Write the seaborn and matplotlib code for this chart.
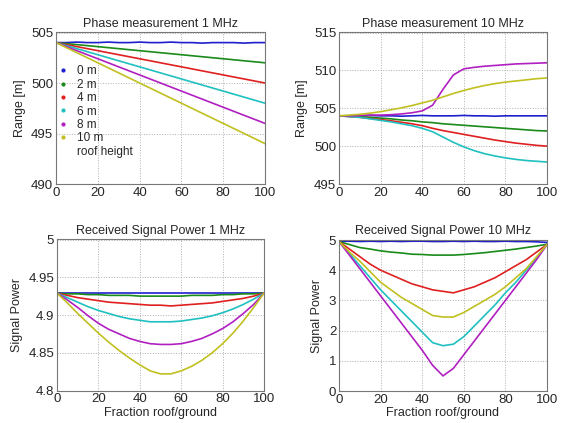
import matplotlib
matplotlib.use("Agg")
import matplotlib.pyplot as plt
from matplotlib.lines import Line2D
import seaborn as sns
import numpy as np
import pandas as pd

# fraction roof/ground (%), read every 5 units
fraction = list(range(0, 101, 5))
heights = ["0 m", "2 m", "4 m", "6 m", "8 m", "10 m"]
colors = ["#1f1fd0", "#1a8a1a", "#e02020", "#20c0c0", "#b020c0", "#c0c020"]

# Phase measurement 1 MHz (range in m)
phase_1mhz_0 = [504.0, 504.0, 504.05, 504.0, 504.0, 504.05, 504.0, 504.0, 504.05, 504.0, 504.0,
                504.05, 504.0, 504.0, 503.95, 504.0, 504.0, 504.0, 503.95, 504.0, 504.0]
phase_1mhz_2 = [504.0, 503.9, 503.8, 503.7, 503.6, 503.5, 503.4, 503.3, 503.2, 503.1, 503.0,
                502.9, 502.8, 502.7, 502.6, 502.5, 502.4, 502.3, 502.2, 502.1, 502.0]
phase_1mhz_4 = [504.0, 503.8, 503.6, 503.4, 503.2, 503.0, 502.8, 502.6, 502.4, 502.2, 502.0,
                501.8, 501.6, 501.4, 501.2, 501.0, 500.8, 500.6, 500.4, 500.2, 500.0]
phase_1mhz_6 = [504.0, 503.7, 503.4, 503.1, 502.8, 502.5, 502.2, 501.9, 501.6, 501.3, 501.0,
                500.7, 500.4, 500.1, 499.8, 499.5, 499.2, 498.9, 498.6, 498.3, 498.0]
phase_1mhz_8 = [504.0, 503.6, 503.2, 502.8, 502.4, 502.0, 501.6, 501.2, 500.8, 500.4, 500.0,
                499.6, 499.2, 498.8, 498.4, 498.0, 497.6, 497.2, 496.8, 496.4, 496.0]
phase_1mhz_10 = [504.0, 503.5, 503.0, 502.5, 502.0, 501.5, 501.0, 500.5, 500.0, 499.5, 499.0,
                 498.5, 498.0, 497.5, 497.0, 496.5, 496.0, 495.5, 495.0, 494.5, 494.0]

# Phase measurement 10 MHz (range in m)
phase_10mhz_0 = [504.0, 504.0, 504.0, 504.05, 504.0, 504.0, 503.95, 504.0, 504.05, 504.0, 504.0,
                 504.0, 504.05, 504.0, 504.0, 503.95, 504.0, 504.0, 504.0, 504.0, 504.0]
phase_10mhz_2 = [504.0, 503.95, 503.9, 503.8, 503.7, 503.6, 503.45, 503.35, 503.2, 503.1, 502.95,
                 502.85, 502.75, 502.65, 502.55, 502.45, 502.35, 502.25, 502.15, 502.05, 502.0]
phase_10mhz_4 = [504.0, 503.9, 503.8, 503.65, 503.5, 503.35, 503.15, 502.95, 502.7, 502.35, 502.05,
                 501.8, 501.55, 501.3, 501.05, 500.8, 500.6, 500.4, 500.25, 500.1, 500.0]
phase_10mhz_6 = [504.0, 503.9, 503.8, 503.6, 503.4, 503.2, 502.95, 502.7, 502.35, 501.9, 501.2,
                 500.5, 499.9, 499.4, 499.0, 498.7, 498.45, 498.25, 498.1, 498.0, 497.9]
phase_10mhz_8 = [504.0, 504.0, 504.05, 504.1, 504.1, 504.15, 504.25, 504.4, 504.65, 505.4, 507.5,
                 509.4, 510.2, 510.4, 510.55, 510.65, 510.75, 510.85, 510.9, 510.95, 511.0]
phase_10mhz_10 = [504.0, 504.1, 504.2, 504.35, 504.55, 504.8, 505.05, 505.35, 505.7, 506.05, 506.5,
                  506.95, 507.35, 507.7, 508.0, 508.25, 508.45, 508.6, 508.75, 508.9, 509.0]

# Received signal power 1 MHz
power_1mhz_0 = [4.929, 4.929, 4.929, 4.929, 4.929, 4.929, 4.929, 4.929, 4.929, 4.929, 4.929,
                4.929, 4.929, 4.929, 4.929, 4.929, 4.929, 4.929, 4.929, 4.929, 4.929]
power_1mhz_2 = [4.929, 4.928, 4.928, 4.927, 4.927, 4.926, 4.926, 4.926, 4.925, 4.925, 4.925,
                4.925, 4.925, 4.926, 4.926, 4.926, 4.927, 4.927, 4.928, 4.928, 4.929]
power_1mhz_4 = [4.929, 4.926, 4.923, 4.921, 4.919, 4.917, 4.916, 4.915, 4.914, 4.913, 4.913,
                4.912, 4.913, 4.914, 4.915, 4.916, 4.918, 4.920, 4.922, 4.925, 4.929]
power_1mhz_6 = [4.929, 4.923, 4.917, 4.911, 4.906, 4.902, 4.898, 4.895, 4.893, 4.891, 4.891,
                4.891, 4.892, 4.894, 4.896, 4.899, 4.903, 4.908, 4.914, 4.921, 4.929]
power_1mhz_8 = [4.929, 4.920, 4.910, 4.899, 4.889, 4.881, 4.875, 4.869, 4.865, 4.862, 4.861,
                4.861, 4.862, 4.865, 4.869, 4.875, 4.882, 4.891, 4.902, 4.914, 4.929]
power_1mhz_10 = [4.929, 4.916, 4.902, 4.889, 4.876, 4.864, 4.853, 4.843, 4.834, 4.826, 4.822,
                 4.822, 4.826, 4.832, 4.840, 4.850, 4.862, 4.876, 4.892, 4.910, 4.929]

# Received signal power 10 MHz
power_10mhz_0 = [4.96, 4.96, 4.95, 4.96, 4.95, 4.96, 4.95, 4.96, 4.96, 4.95, 4.95,
                 4.96, 4.95, 4.96, 4.95, 4.95, 4.96, 4.95, 4.95, 4.94, 4.92]
power_10mhz_2 = [4.95, 4.85, 4.75, 4.7, 4.64, 4.6, 4.57, 4.53, 4.52, 4.5, 4.5,
                 4.5, 4.52, 4.55, 4.58, 4.62, 4.66, 4.7, 4.75, 4.8, 4.86]
power_10mhz_4 = [4.95, 4.7, 4.45, 4.2, 4.0, 3.85, 3.7, 3.55, 3.45, 3.35, 3.3,
                 3.25, 3.35, 3.45, 3.6, 3.75, 3.95, 4.15, 4.35, 4.6, 4.85]
power_10mhz_6 = [4.95, 4.55, 4.15, 3.75, 3.35, 3.0, 2.65, 2.3, 1.95, 1.6, 1.5,
                 1.55, 1.8, 2.15, 2.5, 2.85, 3.25, 3.6, 4.0, 4.4, 4.85]
power_10mhz_8 = [4.95, 4.5, 4.05, 3.6, 3.15, 2.7, 2.25, 1.8, 1.35, 0.85, 0.5,
                 0.75, 1.2, 1.65, 2.1, 2.55, 3.0, 3.45, 3.9, 4.35, 4.85]
power_10mhz_10 = [4.95, 4.6, 4.3, 3.95, 3.6, 3.35, 3.1, 2.9, 2.7, 2.5, 2.45,
                  2.45, 2.6, 2.8, 3.0, 3.2, 3.45, 3.75, 4.05, 4.45, 4.85]

panels = [
    ("Phase measurement 1 MHz",
     [phase_1mhz_0, phase_1mhz_2, phase_1mhz_4, phase_1mhz_6, phase_1mhz_8, phase_1mhz_10],
     "Range [m]", (490, 505), [490, 495, 500, 505], ["490", "495", "500", "505"]),
    ("Phase measurement 10 MHz",
     [phase_10mhz_0, phase_10mhz_2, phase_10mhz_4, phase_10mhz_6, phase_10mhz_8, phase_10mhz_10],
     "Range [m]", (495, 515), [495, 500, 505, 510, 515], ["495", "500", "505", "510", "515"]),
    ("Received Signal Power 1 MHz",
     [power_1mhz_0, power_1mhz_2, power_1mhz_4, power_1mhz_6, power_1mhz_8, power_1mhz_10],
     "Signal Power", (4.8, 5.0), [4.8, 4.85, 4.9, 4.95, 5.0], ["4.8", "4.85", "4.9", "4.95", "5"]),
    ("Received Signal Power 10 MHz",
     [power_10mhz_0, power_10mhz_2, power_10mhz_4, power_10mhz_6, power_10mhz_8, power_10mhz_10],
     "Signal Power", (0, 5), [0, 1, 2, 3, 4, 5], ["0", "1", "2", "3", "4", "5"]),
]

sns.set_style("white")
plt.rcParams["font.family"] = ["Liberation Sans", "DejaVu Sans"]

fig = plt.figure(figsize=(5.62, 4.23), dpi=100)
boxes = [
    [56 / 562, 1 - 184 / 423, 209 / 562, 151.5 / 423],
    [339 / 562, 1 - 184 / 423, 208 / 562, 151.5 / 423],
    [57 / 562, 1 - 390.5 / 423, 207 / 562, 151 / 423],
    [339 / 562, 1 - 391 / 423, 208 / 562, 151 / 423],
]

for i, (title, series, ylabel, ylim, yticks, yticklabels) in enumerate(panels):
    ax = fig.add_axes(boxes[i])
    df = pd.DataFrame({
        "fraction": fraction * len(heights),
        "value": np.concatenate(series),
        "height": np.repeat(heights, len(fraction)),
    })
    sns.lineplot(data=df, x="fraction", y="value", hue="height", palette=colors,
                 hue_order=heights, linewidth=1.2, legend=False, ax=ax)
    ax.set_xlim(0, 100)
    ax.set_ylim(*ylim)
    ax.set_xticks([0, 20, 40, 60, 80, 100])
    ax.set_yticks(yticks)
    ax.set_yticklabels(yticklabels)
    ax.set_title(title, fontsize=9, pad=4)
    ax.set_ylabel(ylabel, fontsize=9, labelpad=4)
    if i >= 2:
        ax.set_xlabel("Fraction roof/ground", fontsize=9, labelpad=1)
    else:
        ax.set_xlabel("")
    ax.grid(True, linestyle=":", color="#b0b0b0", linewidth=0.7)
    ax.tick_params(direction="in", length=3, labelsize=9.5, pad=2, color="#666666")
    for sp in ax.spines.values():
        sp.set_color("#777777")
        sp.set_linewidth(0.8)

    if i == 0:
        handles = [Line2D([], [], marker=".", linestyle="none", color=c, markersize=4)
                   for c in colors]
        handles.append(Line2D([], [], linestyle="none"))
        ax.legend(handles, heights + ["roof height"], loc="upper left",
                  bbox_to_anchor=(-0.035, 0.83), frameon=False, fontsize=8.5,
                  labelspacing=0.12, handlelength=1.2, handletextpad=0.6,
                  borderaxespad=0.2)

fig.savefig("out.png", dpi=100)
